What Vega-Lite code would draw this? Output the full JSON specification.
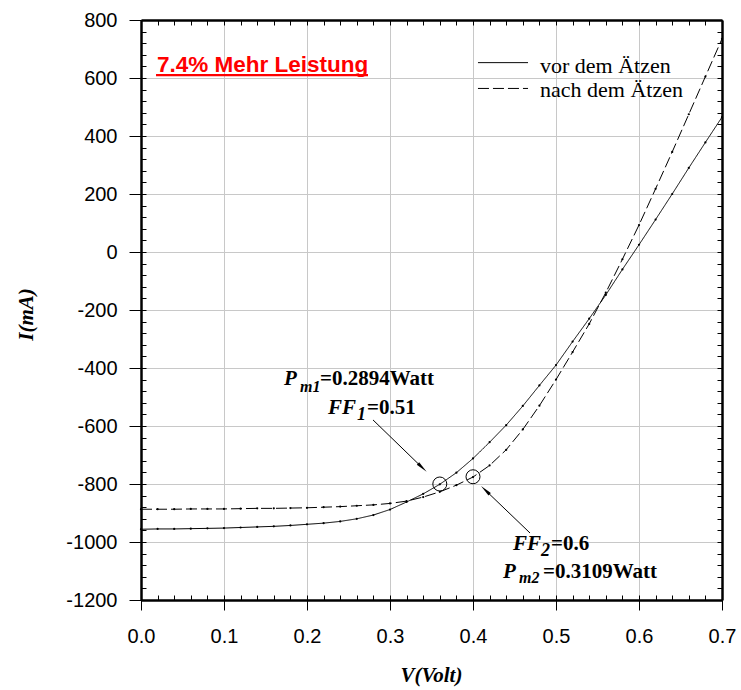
{
  "$schema": "https://vega.github.io/schema/vega-lite/v6.json",
  "width": 581,
  "height": 580,
  "autosize": "none",
  "padding": {"left": 141, "top": 20, "right": 19, "bottom": 90},
  "background": "white",
  "config": {"view": {"stroke": null}, "font": "Liberation Sans"},
  "datasets": {
    "curves": [
      {"series": "vor dem Ätzen", "V": 0.00, "I": -956},
      {"series": "vor dem Ätzen", "V": 0.02, "I": -955},
      {"series": "vor dem Ätzen", "V": 0.04, "I": -955},
      {"series": "vor dem Ätzen", "V": 0.06, "I": -954},
      {"series": "vor dem Ätzen", "V": 0.08, "I": -953},
      {"series": "vor dem Ätzen", "V": 0.10, "I": -952},
      {"series": "vor dem Ätzen", "V": 0.12, "I": -950},
      {"series": "vor dem Ätzen", "V": 0.14, "I": -948},
      {"series": "vor dem Ätzen", "V": 0.16, "I": -946},
      {"series": "vor dem Ätzen", "V": 0.18, "I": -943},
      {"series": "vor dem Ätzen", "V": 0.20, "I": -939},
      {"series": "vor dem Ätzen", "V": 0.22, "I": -935},
      {"series": "vor dem Ätzen", "V": 0.24, "I": -929},
      {"series": "vor dem Ätzen", "V": 0.26, "I": -920},
      {"series": "vor dem Ätzen", "V": 0.28, "I": -907},
      {"series": "vor dem Ätzen", "V": 0.30, "I": -888},
      {"series": "vor dem Ätzen", "V": 0.32, "I": -862},
      {"series": "vor dem Ätzen", "V": 0.34, "I": -834},
      {"series": "vor dem Ätzen", "V": 0.36, "I": -801},
      {"series": "vor dem Ätzen", "V": 0.38, "I": -761},
      {"series": "vor dem Ätzen", "V": 0.40, "I": -712},
      {"series": "vor dem Ätzen", "V": 0.42, "I": -656},
      {"series": "vor dem Ätzen", "V": 0.44, "I": -597},
      {"series": "vor dem Ätzen", "V": 0.46, "I": -531},
      {"series": "vor dem Ätzen", "V": 0.48, "I": -460},
      {"series": "vor dem Ätzen", "V": 0.50, "I": -390},
      {"series": "vor dem Ätzen", "V": 0.52, "I": -309},
      {"series": "vor dem Ätzen", "V": 0.54, "I": -230},
      {"series": "vor dem Ätzen", "V": 0.56, "I": -148},
      {"series": "vor dem Ätzen", "V": 0.58, "I": -60},
      {"series": "vor dem Ätzen", "V": 0.60, "I": 25},
      {"series": "vor dem Ätzen", "V": 0.62, "I": 112},
      {"series": "vor dem Ätzen", "V": 0.64, "I": 200},
      {"series": "vor dem Ätzen", "V": 0.66, "I": 290},
      {"series": "vor dem Ätzen", "V": 0.68, "I": 378},
      {"series": "vor dem Ätzen", "V": 0.70, "I": 465},
      {"series": "nach dem Ätzen", "V": 0.00, "I": -887},
      {"series": "nach dem Ätzen", "V": 0.02, "I": -887},
      {"series": "nach dem Ätzen", "V": 0.04, "I": -887},
      {"series": "nach dem Ätzen", "V": 0.06, "I": -886},
      {"series": "nach dem Ätzen", "V": 0.08, "I": -886},
      {"series": "nach dem Ätzen", "V": 0.10, "I": -886},
      {"series": "nach dem Ätzen", "V": 0.12, "I": -885},
      {"series": "nach dem Ätzen", "V": 0.14, "I": -884},
      {"series": "nach dem Ätzen", "V": 0.16, "I": -884},
      {"series": "nach dem Ätzen", "V": 0.18, "I": -883},
      {"series": "nach dem Ätzen", "V": 0.20, "I": -882},
      {"series": "nach dem Ätzen", "V": 0.22, "I": -880},
      {"series": "nach dem Ätzen", "V": 0.24, "I": -878},
      {"series": "nach dem Ätzen", "V": 0.26, "I": -875},
      {"series": "nach dem Ätzen", "V": 0.28, "I": -872},
      {"series": "nach dem Ätzen", "V": 0.30, "I": -867},
      {"series": "nach dem Ätzen", "V": 0.32, "I": -859},
      {"series": "nach dem Ätzen", "V": 0.34, "I": -845},
      {"series": "nach dem Ätzen", "V": 0.36, "I": -827},
      {"series": "nach dem Ätzen", "V": 0.38, "I": -804},
      {"series": "nach dem Ätzen", "V": 0.40, "I": -776},
      {"series": "nach dem Ätzen", "V": 0.42, "I": -736},
      {"series": "nach dem Ätzen", "V": 0.44, "I": -682},
      {"series": "nach dem Ätzen", "V": 0.46, "I": -612},
      {"series": "nach dem Ätzen", "V": 0.48, "I": -530},
      {"series": "nach dem Ätzen", "V": 0.50, "I": -440},
      {"series": "nach dem Ätzen", "V": 0.52, "I": -345},
      {"series": "nach dem Ätzen", "V": 0.54, "I": -248},
      {"series": "nach dem Ätzen", "V": 0.56, "I": -140},
      {"series": "nach dem Ätzen", "V": 0.58, "I": -25},
      {"series": "nach dem Ätzen", "V": 0.60, "I": 93},
      {"series": "nach dem Ätzen", "V": 0.62, "I": 218},
      {"series": "nach dem Ätzen", "V": 0.64, "I": 345},
      {"series": "nach dem Ätzen", "V": 0.66, "I": 475},
      {"series": "nach dem Ätzen", "V": 0.68, "I": 605},
      {"series": "nach dem Ätzen", "V": 0.70, "I": 735}
    ],
    "legendLines": [
      {"series": "vor dem Ätzen", "V": 0.406, "V2": 0.4663, "I": 653},
      {"series": "nach dem Ätzen", "V": 0.406, "V2": 0.4663, "I": 564}
    ],
    "legendLabels": [
      {"series": "vor dem Ätzen", "V": 0.4807, "I": 616},
      {"series": "nach dem Ätzen", "V": 0.4807, "I": 533}
    ],
    "circles": [
      {"point": "Pm1", "V": 0.36, "I": -800},
      {"point": "Pm2", "V": 0.40, "I": -775}
    ],
    "arrows": [
      {"arrow": "Pm1", "V": 0.2795, "I": -579, "V2": 0.3372, "I2": -739},
      {"arrow": "Pm2", "V": 0.4687, "I": -969, "V2": 0.4166, "I2": -826}
    ],
    "underline": [
      {"V": 0.0181, "V2": 0.2735, "I": 610}
    ],
    "texts": [
      {"part": "headline", "text": "7.4% Mehr Leistung", "V": 0.0193, "I": 621},
      {"part": "sym", "text": "P", "V": 0.1723, "I": -459},
      {"part": "sub", "text": "m1", "V": 0.1916, "I": -483},
      {"part": "val", "text": "=0.2894Watt", "V": 0.2157, "I": -459},
      {"part": "sym", "text": "FF", "V": 0.2253, "I": -559},
      {"part": "subn", "text": "1", "V": 0.2602, "I": -579},
      {"part": "val", "text": "=0.51", "V": 0.2723, "I": -559},
      {"part": "sym", "text": "FF", "V": 0.4482, "I": -1028},
      {"part": "subn", "text": "2", "V": 0.4819, "I": -1048},
      {"part": "val", "text": "=0.6", "V": 0.4940, "I": -1028},
      {"part": "sym", "text": "P", "V": 0.4361, "I": -1124},
      {"part": "sub", "text": "m2", "V": 0.4554, "I": -1141},
      {"part": "val", "text": "=0.3109Watt", "V": 0.4843, "I": -1124}
    ]
  },
  "encoding": {
    "x": {"field": "V", "type": "quantitative", "scale": {"domain": [0, 0.7], "nice": false, "zero": false}, "axis": null},
    "y": {"field": "I", "type": "quantitative", "scale": {"domain": [-1200, 800], "nice": false, "zero": false}, "axis": null}
  },
  "layer": [
    {
      "data": {"name": "curves"},
      "mark": {"type": "line", "color": "black", "strokeWidth": 1},
      "encoding": {
        "x": {"field": "V", "type": "quantitative", "scale": {"domain": [0, 0.7], "nice": false, "zero": false},
          "axis": {"orient": "bottom", "values": [0, 0.1, 0.2, 0.3, 0.4, 0.5, 0.6, 0.7], "format": ".1f", "labelFlush": false, "labelOverlap": false,
            "labelFont": "Liberation Sans", "labelFontSize": 20, "labelColor": "black", "labelPadding": 16,
            "tickSize": 10, "tickColor": "black", "tickWidth": 1, "domain": false,
            "grid": true, "gridColor": "#c8c8c8", "gridWidth": 1,
            "title": "V(Volt)", "titleFont": "Liberation Serif", "titleFontSize": 21, "titleFontWeight": "bold", "titleFontStyle": "italic", "titleColor": "black",
            "titleX": 290, "titleY": 75, "titleBaseline": "middle", "titleAlign": "center"}},
        "y": {"field": "I", "type": "quantitative", "scale": {"domain": [-1200, 800], "nice": false, "zero": false},
          "axis": {"orient": "left", "values": [-1200, -1000, -800, -600, -400, -200, 0, 200, 400, 600, 800], "labelExpr": "'' + datum.value", "labelFlush": false, "labelOverlap": false,
            "labelFont": "Liberation Sans", "labelFontSize": 20, "labelColor": "black", "labelPadding": 12,
            "tickSize": 12, "tickColor": "black", "tickWidth": 1, "domain": false,
            "grid": true, "gridColor": "#c8c8c8", "gridWidth": 1,
            "title": "I(mA)", "titleFont": "Liberation Serif", "titleFontSize": 21, "titleFontWeight": "bold", "titleFontStyle": "italic", "titleColor": "black",
            "titleX": -115, "titleY": 294, "titleBaseline": "middle", "titleAlign": "center", "titleAngle": -90}},
        "strokeDash": {"field": "series", "type": "nominal",
          "scale": {"domain": ["vor dem Ätzen", "nach dem Ätzen"], "range": [[1, 0], [11, 4]]},
          "legend": null}
      }
    },
    {
      "data": {"name": "curves"},
      "mark": {"type": "point", "shape": "circle", "filled": true, "color": "black", "size": 5, "opacity": 1},
      "encoding": {
        "x": {"field": "V", "type": "quantitative", "scale": {"domain": [0, 0.7], "nice": false, "zero": false},
          "axis": {"orient": "bottom", "values": [0, 0.02, 0.04, 0.06, 0.08, 0.1, 0.12, 0.14, 0.16, 0.18, 0.2, 0.22, 0.24, 0.26, 0.28, 0.3, 0.32, 0.34, 0.36, 0.38, 0.4, 0.42, 0.44, 0.46, 0.48, 0.5, 0.52, 0.54, 0.56, 0.58, 0.6, 0.62, 0.64, 0.66, 0.68, 0.7],
            "labels": false, "tickSize": -5, "tickColor": "black", "tickWidth": 1, "domain": true, "domainColor": "black", "domainWidth": 2.5,
            "grid": false, "title": null, "zindex": 1}},
        "y": {"field": "I", "type": "quantitative", "scale": {"domain": [-1200, 800], "nice": false, "zero": false},
          "axis": {"orient": "left", "values": [-1200, -1160, -1120, -1080, -1040, -1000, -960, -920, -880, -840, -800, -760, -720, -680, -640, -600, -560, -520, -480, -440, -400, -360, -320, -280, -240, -200, -160, -120, -80, -40, 0, 40, 80, 120, 160, 200, 240, 280, 320, 360, 400, 440, 480, 520, 560, 600, 640, 680, 720, 760, 800],
            "labels": false, "tickSize": -5, "tickColor": "black", "tickWidth": 1, "domain": true, "domainColor": "black", "domainWidth": 2.5,
            "grid": false, "title": null, "zindex": 1}}
      }
    },
    {
      "data": {"name": "circles"},
      "mark": {"type": "point", "shape": "circle", "filled": false, "color": "black", "strokeWidth": 1, "size": 196, "opacity": 1},
      "encoding": {
        "x": {"field": "V", "type": "quantitative", "scale": {"domain": [0, 0.7], "nice": false, "zero": false},
          "axis": {"orient": "top", "values": [0, 0.02, 0.04, 0.06, 0.08, 0.1, 0.12, 0.14, 0.16, 0.18, 0.2, 0.22, 0.24, 0.26, 0.28, 0.3, 0.32, 0.34, 0.36, 0.38, 0.4, 0.42, 0.44, 0.46, 0.48, 0.5, 0.52, 0.54, 0.56, 0.58, 0.6, 0.62, 0.64, 0.66, 0.68, 0.7],
            "labels": false, "tickSize": -5, "tickColor": "black", "tickWidth": 1, "domain": true, "domainColor": "black", "domainWidth": 2.5,
            "grid": false, "title": null, "zindex": 1}},
        "y": {"field": "I", "type": "quantitative", "scale": {"domain": [-1200, 800], "nice": false, "zero": false},
          "axis": {"orient": "right", "values": [-1200, -1160, -1120, -1080, -1040, -1000, -960, -920, -880, -840, -800, -760, -720, -680, -640, -600, -560, -520, -480, -440, -400, -360, -320, -280, -240, -200, -160, -120, -80, -40, 0, 40, 80, 120, 160, 200, 240, 280, 320, 360, 400, 440, 480, 520, 560, 600, 640, 680, 720, 760, 800],
            "labels": false, "tickSize": -5, "tickColor": "black", "tickWidth": 1, "domain": true, "domainColor": "black", "domainWidth": 2.5,
            "grid": false, "title": null, "zindex": 1}}
      }
    },
    {
      "data": {"name": "legendLines"},
      "mark": {"type": "rule", "color": "black", "strokeWidth": 1},
      "encoding": {
        "x2": {"field": "V2"},
        "strokeDash": {"field": "series", "type": "nominal",
          "scale": {"domain": ["vor dem Ätzen", "nach dem Ätzen"], "range": [[1, 0], [11, 4]]},
          "legend": null}
      }
    },
    {
      "data": {"name": "legendLabels"},
      "mark": {"type": "text", "align": "left", "baseline": "alphabetic", "font": "Liberation Serif", "fontSize": 22, "color": "black"},
      "encoding": {"text": {"field": "series"}}
    },
    {
      "data": {"name": "arrows"},
      "mark": {"type": "rule", "color": "black", "strokeWidth": 1},
      "encoding": {
        "x2": {"field": "V2"},
        "y2": {"field": "I2"}
      }
    },
    {
      "data": {"name": "arrows"},
      "transform": [{"filter": "datum.arrow == 'Pm1'"}],
      "mark": {"type": "point", "shape": "wedge", "filled": true, "color": "black", "size": 190, "angle": 133.4, "opacity": 1},
      "encoding": {
        "x": {"field": "V2", "type": "quantitative", "scale": {"domain": [0, 0.7], "nice": false, "zero": false}, "axis": null},
        "y": {"field": "I2", "type": "quantitative", "scale": {"domain": [-1200, 800], "nice": false, "zero": false}, "axis": null}
      }
    },
    {
      "data": {"name": "arrows"},
      "transform": [{"filter": "datum.arrow == 'Pm2'"}],
      "mark": {"type": "point", "shape": "wedge", "filled": true, "color": "black", "size": 190, "angle": 313.7, "opacity": 1},
      "encoding": {
        "x": {"field": "V2", "type": "quantitative", "scale": {"domain": [0, 0.7], "nice": false, "zero": false}, "axis": null},
        "y": {"field": "I2", "type": "quantitative", "scale": {"domain": [-1200, 800], "nice": false, "zero": false}, "axis": null}
      }
    },
    {
      "data": {"name": "underline"},
      "mark": {"type": "rule", "color": "#ff0000", "strokeWidth": 2.2},
      "encoding": {"x2": {"field": "V2"}}
    },
    {
      "data": {"name": "texts"},
      "transform": [{"filter": "datum.part == 'headline'"}],
      "mark": {"type": "text", "align": "left", "baseline": "alphabetic", "font": "Liberation Sans", "fontSize": 22.5, "fontWeight": "bold", "color": "#ff0000"},
      "encoding": {"text": {"field": "text"}}
    },
    {
      "data": {"name": "texts"},
      "transform": [{"filter": "datum.part == 'sym'"}],
      "mark": {"type": "text", "align": "left", "baseline": "alphabetic", "font": "Liberation Serif", "fontSize": 21, "fontWeight": "bold", "fontStyle": "italic", "color": "black"},
      "encoding": {"text": {"field": "text"}}
    },
    {
      "data": {"name": "texts"},
      "transform": [{"filter": "datum.part == 'sub'"}],
      "mark": {"type": "text", "align": "left", "baseline": "alphabetic", "font": "Liberation Serif", "fontSize": 16, "fontWeight": "bold", "fontStyle": "italic", "color": "black"},
      "encoding": {"text": {"field": "text"}}
    },
    {
      "data": {"name": "texts"},
      "transform": [{"filter": "datum.part == 'subn'"}],
      "mark": {"type": "text", "align": "left", "baseline": "alphabetic", "font": "Liberation Serif", "fontSize": 18, "fontWeight": "bold", "fontStyle": "italic", "color": "black"},
      "encoding": {"text": {"field": "text"}}
    },
    {
      "data": {"name": "texts"},
      "transform": [{"filter": "datum.part == 'val'"}],
      "mark": {"type": "text", "align": "left", "baseline": "alphabetic", "font": "Liberation Serif", "fontSize": 21, "fontWeight": "bold", "color": "black"},
      "encoding": {"text": {"field": "text"}}
    }
  ],
  "resolve": {"axis": {"x": "independent", "y": "independent"}}
}
